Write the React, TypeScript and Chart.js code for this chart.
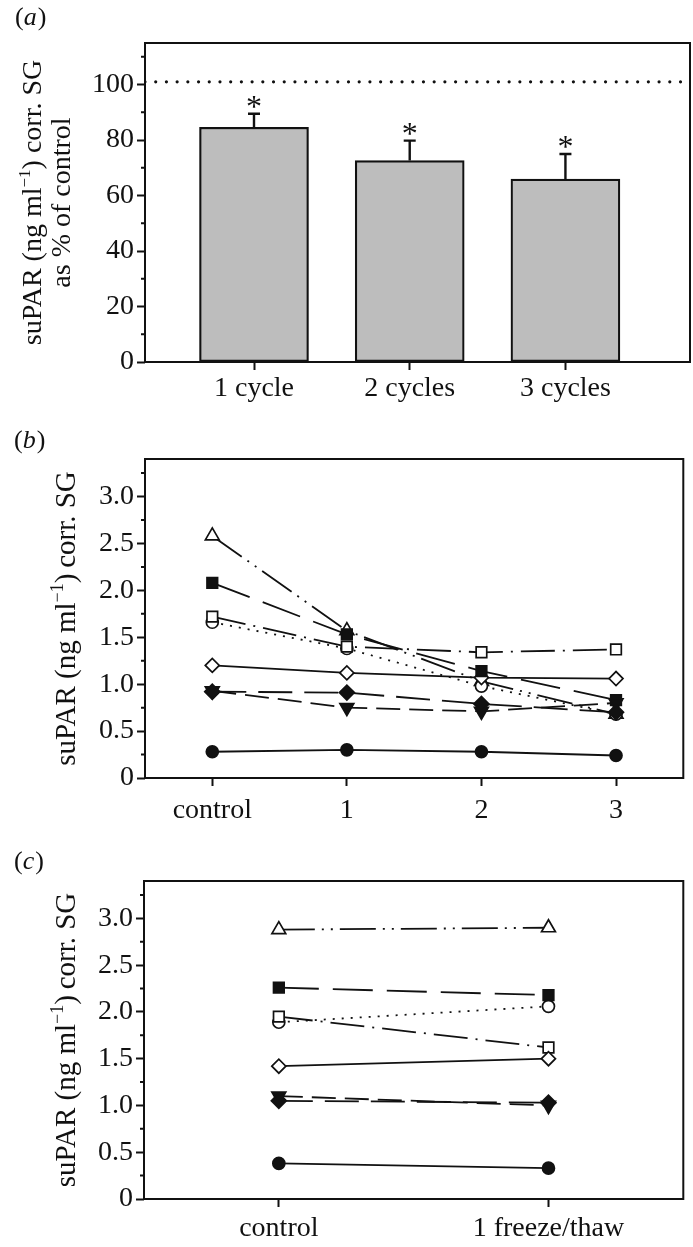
import React, { useEffect, useRef } from 'react';
import { Chart, registerables } from 'chart.js';

Chart.register(...registerables);

const FONT = '"Liberation Serif", "Times New Roman", Times, serif';
const INK = '#111111';

// ---------- Panel (a): suPAR as % of control ----------
const cycleLabels = ['1 cycle', '2 cycles', '3 cycles'];
const cyclePositions = [1, 2, 3];
const percentOfControl = [84.6, 72.6, 65.9];
const percentError = [4.9, 7.2, 9.1];
const controlReference = 101;
const percentTicks = [0, 20, 40, 60, 80, 100];
const percentMinorTicks = [10, 30, 50, 70, 90, 110];
const percentRange = [0, 115];
const cycleRange = [0.3, 3.8];

// ---------- Panel (b): repeated freeze/thaw cycles ----------
const cycleAxisLabels = ['control', '1', '2', '3'];
const cycleAxisPositions = [0, 1, 2, 3];
const bOpenTriangle = [2.58, 1.57, 1.03, 0.68];
const bFilledSquare = [2.08, 1.53, 1.14, 0.83];
const bOpenSquare = [1.72, 1.4, 1.34, 1.37];
const bOpenCircle = [1.66, 1.38, 0.98, 0.68];
const bOpenDiamond = [1.2, 1.12, 1.07, 1.06];
const bFilledDiamond = [0.92, 0.91, 0.79, 0.7];
const bFilledTriangleDown = [0.93, 0.75, 0.71, 0.8];
const bFilledCircle = [0.28, 0.3, 0.28, 0.24];
const bRange = [-0.5, 3.5];

// ---------- Panel (c): single freeze/thaw ----------
const freezeAxisLabels = ['control', '1 freeze/thaw'];
const freezeAxisPositions = [0, 1];
const cOpenTriangle = [2.88, 2.9];
const cFilledSquare = [2.26, 2.18];
const cOpenCircle = [1.89, 2.06];
const cOpenSquare = [1.95, 1.62];
const cOpenDiamond = [1.42, 1.5];
const cFilledTriangleDown = [1.1, 1.0];
const cFilledDiamond = [1.05, 1.03];
const cFilledCircle = [0.38, 0.33];
const cRange = [-0.5, 1.5];

const suparTicks = [0, 0.5, 1, 1.5, 2, 2.5, 3];
const suparMinorTicks = [0.25, 0.75, 1.25, 1.75, 2.25, 2.75, 3.25];
const suparRange = [0, 3.4];

// ---------- styles ----------
type MarkerStyle = { pointStyle: string; rotation?: number; bg: string; radius: number; dash: number[] };
const STY: Record<string, MarkerStyle> = {
  openTriangle: { pointStyle: 'triangle', bg: '#fff', radius: 8, dash: [36, 7, 2, 7, 2, 7] },
  filledSquare: { pointStyle: 'rect', bg: INK, radius: 7.5, dash: [40, 14] },
  openSquare: { pointStyle: 'rect', bg: '#fff', radius: 7.5, dash: [34, 8, 2, 8] },
  openCircle: { pointStyle: 'circle', bg: '#fff', radius: 6, dash: [2, 7] },
  openDiamond: { pointStyle: 'rectRot', bg: '#fff', radius: 7, dash: [] },
  filledDiamond: { pointStyle: 'rectRot', bg: INK, radius: 7.5, dash: [34, 12] },
  filledTriangleDown: { pointStyle: 'triangle', rotation: 180, bg: INK, radius: 8, dash: [24, 9] },
  filledCircle: { pointStyle: 'circle', bg: INK, radius: 6, dash: [] },
};

type Part = { text: string; sup?: boolean };
const titleLine: Part[] = [{ text: 'suPAR (ng ml' }, { text: '\u22121', sup: true }, { text: ') corr. SG' }];
const titleLineTight: Part[] = [{ text: 'suPAR (ng ml' }, { text: '\u22121', sup: true }, { text: ')\u2009corr. SG' }];

type DecorCfg = {
  minorY: number[];
  titleLines: Part[][];
  titleXs: number[];
  titleSize: number;
  letter: string;
  letterX: number;
  letterY: number;
  errors?: { positions: number[]; values: number[]; errs: number[] };
};

function drawRich(ctx: CanvasRenderingContext2D, parts: Part[], cx: number, cy: number, size: number) {
  const supSize = Math.round(size * 0.62);
  ctx.save();
  ctx.translate(cx, cy);
  ctx.rotate(-Math.PI / 2);
  ctx.textBaseline = 'alphabetic';
  ctx.textAlign = 'left';
  const widths = parts.map((p) => {
    ctx.font = `${p.sup ? supSize : size}px ${FONT}`;
    return ctx.measureText(p.text).width;
  });
  const total = widths.reduce((s, w) => s + w, 0);
  let x = -total / 2;
  const base = size * 0.3;
  parts.forEach((p, i) => {
    ctx.font = `${p.sup ? supSize : size}px ${FONT}`;
    ctx.fillText(p.text, x, p.sup ? base - size * 0.42 : base);
    x += widths[i];
  });
  ctx.restore();
}

function makeDecor(cfg: DecorCfg) {
  return {
    id: 'decor',
    afterDatasetsDraw(chart: any) {
      if (!cfg.errors) return;
      const ctx: CanvasRenderingContext2D = chart.ctx;
      const xs = chart.scales.x;
      const ys = chart.scales.y;
      ctx.save();
      ctx.strokeStyle = INK;
      ctx.fillStyle = INK;
      ctx.lineWidth = 2.4;
      cfg.errors.positions.forEach((p, i) => {
        const px = xs.getPixelForValue(p);
        const y0 = ys.getPixelForValue(cfg.errors!.values[i]);
        const y1 = ys.getPixelForValue(cfg.errors!.values[i] + cfg.errors!.errs[i]);
        ctx.beginPath();
        ctx.moveTo(px, y0);
        ctx.lineTo(px, y1);
        ctx.moveTo(px - 6, y1);
        ctx.lineTo(px + 6, y1);
        ctx.stroke();
        ctx.font = `32px ${FONT}`;
        ctx.textAlign = 'center';
        ctx.textBaseline = 'alphabetic';
        ctx.fillText('*', px, y1 + 3);
      });
      ctx.restore();
    },
    afterDraw(chart: any) {
      const ctx: CanvasRenderingContext2D = chart.ctx;
      const a = chart.chartArea;
      const ys = chart.scales.y;
      ctx.save();
      ctx.strokeStyle = INK;
      ctx.lineWidth = 2;
      ctx.strokeRect(a.left, a.top, a.right - a.left, a.bottom - a.top);
      ctx.beginPath();
      cfg.minorY.forEach((v) => {
        const y = ys.getPixelForValue(v);
        ctx.moveTo(a.left - 4, y);
        ctx.lineTo(a.left, y);
      });
      ctx.stroke();
      ctx.fillStyle = INK;
      const cy = (a.top + a.bottom) / 2;
      cfg.titleLines.forEach((line, i) => drawRich(ctx, line, cfg.titleXs[i], cy, cfg.titleSize));
      // panel letter
      ctx.textBaseline = 'middle';
      ctx.textAlign = 'left';
      let x = cfg.letterX;
      const pieces: [string, boolean][] = [['(', false], [cfg.letter, true], [')', false]];
      pieces.forEach(([t, it]) => {
        ctx.font = `${it ? 'italic ' : ''}26px ${FONT}`;
        ctx.fillText(t, x, cfg.letterY);
        x += ctx.measureText(t).width + (it ? 1 : 0);
      });
      ctx.restore();
    },
  };
}

function axisX(range: number[], positions: number[], labels: string[], height: number, pad: number) {
  return {
    type: 'linear',
    min: range[0],
    max: range[1],
    offset: false,
    afterBuildTicks: (s: any) => {
      s.ticks = positions.map((v) => ({ value: v }));
    },
    afterFit: (s: any) => {
      s.height = height;
    },
    ticks: {
      autoSkip: false,
      maxRotation: 0,
      padding: pad,
      color: INK,
      font: { family: FONT, size: 28 },
      callback: (v: number) => labels[positions.indexOf(v)] ?? '',
    },
    grid: { display: true, offset: false, drawOnChartArea: false, drawTicks: true, tickLength: 8, tickWidth: 2, tickColor: INK },
    border: { display: false },
  };
}

function axisY(range: number[], ticks: number[], width: number, fmt: (v: number) => string) {
  return {
    type: 'linear',
    min: range[0],
    max: range[1],
    afterBuildTicks: (s: any) => {
      s.ticks = ticks.map((v) => ({ value: v }));
    },
    afterFit: (s: any) => {
      s.width = width;
    },
    ticks: {
      padding: 3,
      color: INK,
      font: { family: FONT, size: 28 },
      callback: (v: number) => fmt(v),
    },
    grid: { display: true, drawOnChartArea: false, drawTicks: true, tickLength: 8, tickWidth: 2, tickColor: INK },
    border: { display: false },
  };
}

function lineSets(xs: number[], series: [number[], MarkerStyle][]) {
  return series.map(([vals, st]) => ({
    type: 'line',
    data: xs.map((x, i) => ({ x, y: vals[i] })),
    borderColor: INK,
    borderWidth: 1.8,
    borderDash: st.dash,
    pointStyle: st.pointStyle,
    pointRotation: st.rotation ?? 0,
    pointRadius: st.radius,
    pointHoverRadius: st.radius,
    pointBackgroundColor: st.bg,
    pointBorderColor: INK,
    pointBorderWidth: 1.7,
    tension: 0,
    fill: false,
  }));
}

const suparFmt = (v: number) => (v === 0 ? '0' : v.toFixed(1));

function buildA(): any {
  return {
    type: 'bar',
    data: {
      datasets: [
        {
          type: 'line',
          data: cycleRange.map((x) => ({ x, y: controlReference })),
          borderColor: INK,
          borderWidth: 3.2,
          borderDash: [0.01, 10.7],
          borderCapStyle: 'round',
          pointRadius: 0,
          fill: false,
        },
        {
          type: 'bar',
          data: cyclePositions.map((x, i) => ({ x, y: percentOfControl[i] })),
          backgroundColor: '#bdbdbd',
          borderColor: INK,
          borderWidth: 2.2,
          borderSkipped: false,
          barThickness: 109,
        },
      ],
    },
    options: {
      responsive: false,
      animation: false,
      layout: { padding: { top: 43, right: 3, bottom: 0, left: 0 } },
      plugins: { legend: { display: false }, tooltip: { enabled: false } },
      scales: {
        x: axisX(cycleRange, cyclePositions, cycleLabels, 58, 2),
        y: axisY(percentRange, percentTicks, 145, (v) => String(v)),
      },
    },
    plugins: [
      makeDecor({
        minorY: percentMinorTicks,
        titleLines: [titleLine, [{ text: 'as % of control' }]],
        titleXs: [33, 62],
        titleSize: 28,
        letter: 'a',
        letterX: 15,
        letterY: 18,
        errors: { positions: cyclePositions, values: percentOfControl, errs: percentError },
      }),
    ],
  };
}

function buildLine(
  xs: number[],
  range: number[],
  labels: string[],
  series: [number[], MarkerStyle][],
  padTop: number,
  xHeight: number,
  yWidth: number,
  labelPad: number,
  letter: string,
  letterY: number
): any {
  return {
    type: 'line',
    data: { datasets: lineSets(xs, series) },
    options: {
      responsive: false,
      animation: false,
      layout: { padding: { top: padTop, right: 3, bottom: 0, left: 0 } },
      plugins: { legend: { display: false }, tooltip: { enabled: false } },
      scales: {
        x: axisX(range, xs, labels, xHeight, labelPad),
        y: axisY(suparRange, suparTicks, yWidth, suparFmt),
      },
    },
    plugins: [
      makeDecor({
        minorY: suparMinorTicks,
        titleLines: [titleLineTight],
        titleXs: [66],
        titleSize: 29,
        letter,
        letterX: 14,
        letterY,
      }),
    ],
  };
}

// first listed series is drawn on top
function buildB() {
  return buildLine(
    cycleAxisPositions,
    bRange,
    cycleAxisLabels,
    [
      [bFilledCircle, STY.filledCircle],
      [bFilledDiamond, STY.filledDiamond],
      [bFilledTriangleDown, STY.filledTriangleDown],
      [bFilledSquare, STY.filledSquare],
      [bOpenDiamond, STY.openDiamond],
      [bOpenSquare, STY.openSquare],
      [bOpenCircle, STY.openCircle],
      [bOpenTriangle, STY.openTriangle],
    ],
    39,
    62,
    145,
    8,
    'b',
    21
  );
}

function buildC() {
  return buildLine(
    freezeAxisPositions,
    cRange,
    freezeAxisLabels,
    [
      [cFilledCircle, STY.filledCircle],
      [cFilledDiamond, STY.filledDiamond],
      [cFilledTriangleDown, STY.filledTriangleDown],
      [cFilledSquare, STY.filledSquare],
      [cOpenDiamond, STY.openDiamond],
      [cOpenSquare, STY.openSquare],
      [cOpenCircle, STY.openCircle],
      [cOpenTriangle, STY.openTriangle],
    ],
    41,
    48,
    144,
    5,
    'c',
    22
  );
}

function ChartCanvas({ width, height, build }: { width: number; height: number; build: () => any }) {
  const ref = useRef<HTMLCanvasElement>(null);
  useEffect(() => {
    const chart = new Chart(ref.current as HTMLCanvasElement, build());
    return () => chart.destroy();
  }, []);
  return <canvas ref={ref} width={width} height={height} style={{ display: 'block', width, height }} />;
}

export default function App() {
  return (
    <div style={{ position: 'absolute', left: 0, top: 0, width: 693, height: 1247, background: '#fff' }}>
      <ChartCanvas width={693} height={420} build={buildA} />
      <ChartCanvas width={693} height={420} build={buildB} />
      <ChartCanvas width={693} height={407} build={buildC} />
    </div>
  );
}
